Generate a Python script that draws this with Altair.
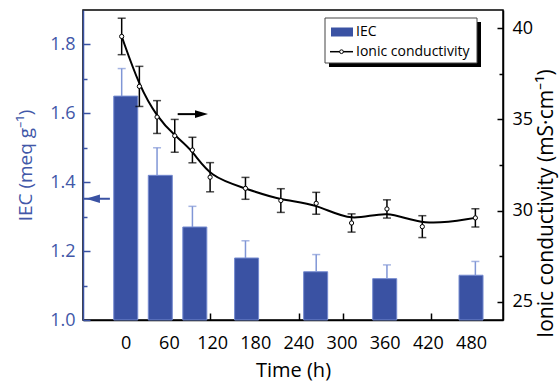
import altair as alt
import pandas as pd

# ---------------- data ----------------
# IEC (bars, left axis)
iec_time = [0, 48, 96, 168, 264, 360, 480]
iec_value = [1.65, 1.42, 1.27, 1.18, 1.14, 1.12, 1.13]
iec_error = [0.08, 0.08, 0.06, 0.05, 0.05, 0.04, 0.04]

# Ionic conductivity (line, right axis)
cond_time = [0, 24, 48, 72, 96, 120, 168, 216, 264, 312, 360, 408, 480]
cond_value = [39.55, 36.81, 35.13, 34.10, 33.32, 31.83, 31.22, 30.55, 30.40, 29.32, 30.09, 29.12, 29.60]
cond_error = [1.0, 1.1, 0.9, 0.9, 0.7, 0.8, 0.6, 0.65, 0.6, 0.5, 0.5, 0.6, 0.5]

# axes
x_ticks = [0, 60, 120, 180, 240, 300, 360, 420, 480]
iec_ticks = [1.0, 1.2, 1.4, 1.6, 1.8]
iec_minor = [1.1, 1.3, 1.5, 1.7]
cond_ticks = [25, 30, 35, 40]
cond_minor = [27.5, 32.5, 37.5]
x_domain = [-52.5, 517.5]
iec_domain = [1.0, 1.9]
cond_domain = [24, 41]

# arrows (data units)
left_arrow_x = [-52.5, -16]
left_arrow_head_x = [-39]
left_arrow_y = [1.352]
right_arrow_x = [76, 103]
right_arrow_head_x = [108.3]
right_arrow_y = [35.29]

legend_labels = ["IEC", "Ionic conductivity"]

# ---------------- styles ----------------
BLUE = "#3a52a3"
BLUE_EDGE = "#7389cf"
BLUE_TXT = "#4157a8"
ERR_BLUE = "#8096d6"
FONT = "Open Sans"

iec_df = pd.DataFrame({"t": iec_time, "v": iec_value, "e": iec_error})
iec_df["hi"] = iec_df["v"] + iec_df["e"]

cond_df = pd.DataFrame({"t": cond_time, "v": cond_value, "e": cond_error})
cond_df["lo"] = cond_df["v"] - cond_df["e"]
cond_df["hi"] = cond_df["v"] + cond_df["e"]
cap_df = pd.concat([
    pd.DataFrame({"t": cond_df["t"], "c": cond_df["lo"]}),
    pd.DataFrame({"t": cond_df["t"], "c": cond_df["hi"]}),
], ignore_index=True)

xs = alt.Scale(domain=x_domain, nice=False, zero=False)
ys_iec = alt.Scale(domain=iec_domain, nice=False, zero=False)
ys_cond = alt.Scale(domain=cond_domain, nice=False, zero=False)


def tick_axis(orient, offset, values, size, color):
    return alt.Axis(orient=orient, offset=offset, values=values, labels=False,
                    domain=False, ticks=True, tickSize=size, tickColor=color,
                    tickWidth=1.5, title=None, grid=False)


bars = alt.Chart(iec_df).mark_bar(size=24, color=BLUE, stroke=BLUE_EDGE, strokeWidth=1).encode(
    x=alt.X("t:Q", scale=xs, axis=alt.Axis(values=x_ticks, ticks=False, tickSize=0, labelPadding=14,
                                           domainColor="black", domainWidth=1.5, title="Time (h)",
                                           titleFontSize=20, titlePadding=8, grid=False)),
    y=alt.Y("v:Q", scale=ys_iec, axis=alt.Axis(values=iec_ticks, ticks=False, tickSize=0, labelPadding=8,
                                               labelColor=BLUE_TXT, domainColor=BLUE, domainWidth=1.5,
                                               title="IEC (meq g⁻¹)", titleColor=BLUE_TXT, titlePadding=14,
                                               grid=False, format=".1f")),
    y2=alt.datum(1.0),
)

iec_err = alt.Chart(iec_df).mark_rule(color=ERR_BLUE, strokeWidth=1.5).encode(
    x=alt.X("t:Q", scale=xs, axis=tick_axis("top", -310, x_ticks, 7, "black")),
    y=alt.Y("v:Q", scale=ys_iec, axis=tick_axis("right", -420, iec_ticks, 7, BLUE)),
    y2="hi:Q",
)

iec_cap = alt.Chart(iec_df).mark_tick(orient="horizontal", size=8, thickness=1.5, color=ERR_BLUE).encode(
    x=alt.X("t:Q", scale=xs, axis=None),
    y=alt.Y("hi:Q", scale=ys_iec, axis=tick_axis("right", -420, iec_minor, 4, BLUE)),
)

line = alt.Chart(cond_df).mark_line(color="black", strokeWidth=2, interpolate="basis").encode(
    x=alt.X("t:Q", scale=xs, axis=None),
    y=alt.Y("v:Q", scale=ys_cond, axis=alt.Axis(orient="right", values=cond_ticks, ticks=False, tickSize=0,
                                                labelPadding=9, domainColor="black", domainWidth=1.5,
                                                title="Ionic conductivity (mS·cm⁻¹)", titleAngle=270,
                                                titleBaseline="top", titleAlign="center", titleY=193,
                                                titleFontSize=21, titlePadding=3, grid=False)),
)

cond_err = alt.Chart(cond_df).mark_rule(color="black", strokeWidth=1.5).encode(
    x=alt.X("t:Q", scale=xs, axis=None),
    y=alt.Y("lo:Q", scale=ys_cond, axis=tick_axis("left", -420, cond_ticks, 6, "black")),
    y2="hi:Q",
)

cond_cap = alt.Chart(cap_df).mark_tick(orient="horizontal", size=8, thickness=1.5, color="black").encode(
    x=alt.X("t:Q", scale=xs, axis=None),
    y=alt.Y("c:Q", scale=ys_cond, axis=tick_axis("left", -420, cond_minor, 4, "black")),
)

points = alt.Chart(cond_df).mark_circle(fill="white", stroke="black", strokeWidth=1, size=18, opacity=1).encode(
    x=alt.X("t:Q", scale=xs, axis=None),
    y=alt.Y("v:Q", scale=ys_cond, axis=None),
)

# arrows
la_df = pd.DataFrame({"x1": [left_arrow_x[0]], "x2": [left_arrow_x[1]], "y": left_arrow_y, "hx": left_arrow_head_x})
ra_df = pd.DataFrame({"x1": [right_arrow_x[0]], "x2": [right_arrow_x[1]], "y": right_arrow_y, "hx": right_arrow_head_x})

la_rule = alt.Chart(la_df).mark_rule(color=BLUE, strokeWidth=2).encode(
    x=alt.X("x1:Q", scale=xs, axis=None), x2="x2:Q", y=alt.Y("y:Q", scale=ys_iec, axis=None))
la_head = alt.Chart(la_df).mark_point(shape="M-1,0L1,-0.6L1,0.6Z", filled=True, color=BLUE, size=196, opacity=1).encode(
    x=alt.X("hx:Q", scale=xs, axis=None), y=alt.Y("y:Q", scale=ys_iec, axis=None))
ra_rule = alt.Chart(ra_df).mark_rule(color="black", strokeWidth=2).encode(
    x=alt.X("x1:Q", scale=xs, axis=None), x2="x2:Q", y=alt.Y("y:Q", scale=ys_cond, axis=None))
ra_head = alt.Chart(ra_df).mark_point(shape="M1,0L-1,-0.6L-1,0.6Z", filled=True, color="black", size=169, opacity=1).encode(
    x=alt.X("hx:Q", scale=xs, axis=None), y=alt.Y("y:Q", scale=ys_cond, axis=None))

# legend (drawn by hand, with shadow)
one = pd.DataFrame({"a": [0]})
lg_shadow = alt.Chart(one).mark_rect(color="black").encode(
    x=alt.value(246), x2=alt.value(398), y=alt.value(12), y2=alt.value(57))
lg_box = alt.Chart(one).mark_rect(fill="white", stroke="#444", strokeWidth=1).encode(
    x=alt.value(242), x2=alt.value(394), y=alt.value(8), y2=alt.value(53))
lg_swatch = alt.Chart(one).mark_rect(color=BLUE).encode(
    x=alt.value(248), x2=alt.value(270), y=alt.value(17.5), y2=alt.value(26.5))
lg_line = alt.Chart(one).mark_rule(color="black", strokeWidth=1.5).encode(
    x=alt.value(247), x2=alt.value(270), y=alt.value(41.7))
lg_dot = alt.Chart(one).mark_circle(fill="white", stroke="black", strokeWidth=1, size=14, opacity=1).encode(
    x=alt.value(258.5), y=alt.value(41.7))
lg_text_df = pd.DataFrame({"label": legend_labels, "py": [22, 41.7]})
lg_text = alt.Chart(lg_text_df).mark_text(align="left", baseline="middle", font=FONT, fontSize=14, color="black").encode(
    x=alt.value(273), y=alt.Y("py:Q", scale=None, axis=None), text="label:N")

chart = alt.layer(
    bars, iec_err, iec_cap, line, cond_err, cond_cap, points,
    la_rule, la_head, ra_rule, ra_head,
    lg_shadow, lg_box, lg_swatch, lg_line, lg_dot, lg_text,
).resolve_scale(x="independent", y="independent").resolve_axis(x="independent", y="independent").properties(
    width=420, height=310,
    autosize=alt.AutoSizeParams(type="none"),
    padding={"left": 83, "top": 10, "right": 57, "bottom": 63},
    background="white",
).configure_axis(
    labelFont=FONT, titleFont=FONT, labelFontSize=18, titleFontSize=19, titleFontWeight="normal",
    labelColor="black", titleColor="black",
).configure_view(stroke="black", strokeWidth=1.5)

chart.save("out.html", embed_options={"renderer": "svg", "actions": False})
